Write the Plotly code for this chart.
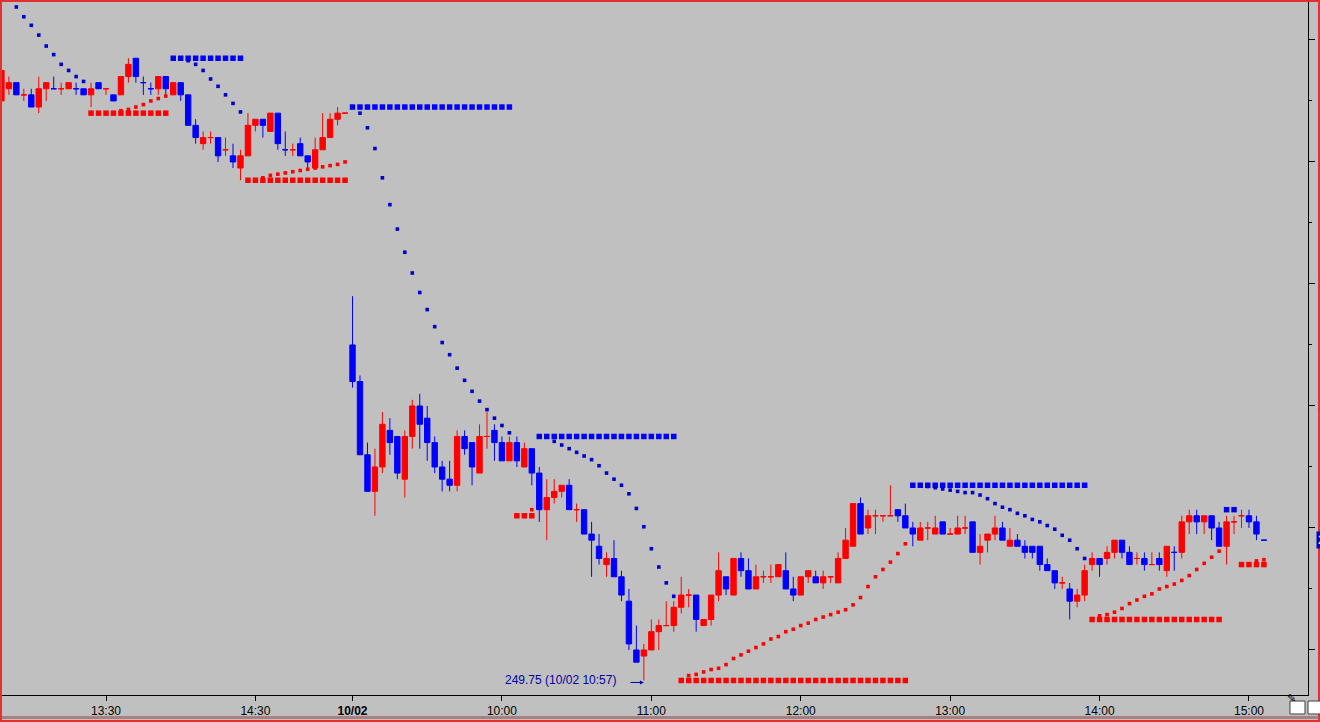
import plotly.graph_objects as go

RED = "#FF0000"
BLUE = "#0000FF"
SAR_BLUE = "#0000D0"
BG = "#C0C0C0"
FONT = "Liberation Sans, Arial, sans-serif"


def session(day, start, count):
    # 3-minute bar labels for one trading session
    h, m = start
    out = []
    for k in range(count):
        t = h * 60 + m + 3 * k
        out.append(f"{day} {t // 60:02d}:{t % 60:02d}")
    return out


times = session("10/01", (12, 48), 47) + session("10/02", (9, 0), 123)

tick_times = ["10/01 13:30", "10/01 14:30", "10/02 09:00", "10/02 10:00", "10/02 11:00",
              "10/02 12:00", "10/02 13:00", "10/02 14:00", "10/02 15:00"]
tick_text = ["13:30", "14:30", "<b>10/02</b>", "10:00", "11:00", "12:00", "13:00", "14:00", "15:00"]

# ---- previous day (10/01 12:48 - 15:06)
open_prev = [254.50, 254.60, 254.65, 254.55, 254.55, 254.45, 254.60, 254.60, 254.60, 254.60,
             254.60, 254.60, 254.55, 254.65, 254.60, 254.55, 254.55, 254.70, 254.85, 254.65,
             254.60, 254.60, 254.70, 254.55, 254.65, 254.55, 254.30, 254.15, 254.20, 254.20,
             254.10, 254.05, 253.95, 254.05, 254.30, 254.35, 254.25, 254.40, 254.10, 254.10,
             254.15, 254.05, 253.95, 254.10, 254.20, 254.35, 254.40]
high_prev = [254.75, 254.70, 254.65, 254.60, 254.60, 254.70, 254.65, 254.70, 254.65, 254.65,
             254.65, 254.60, 254.65, 254.65, 254.60, 254.55, 254.70, 254.85, 254.85, 254.70,
             254.65, 254.70, 254.70, 254.65, 254.65, 254.55, 254.35, 254.25, 254.25, 254.20,
             254.20, 254.15, 254.10, 254.40, 254.35, 254.35, 254.40, 254.40, 254.25, 254.15,
             254.20, 254.05, 254.20, 254.40, 254.40, 254.45, 254.40]
low_prev = [254.50, 254.55, 254.55, 254.50, 254.45, 254.40, 254.50, 254.60, 254.55, 254.60,
            254.55, 254.55, 254.45, 254.60, 254.55, 254.50, 254.55, 254.65, 254.65, 254.55,
            254.55, 254.55, 254.55, 254.55, 254.50, 254.30, 254.15, 254.10, 254.15, 254.00,
            254.05, 253.95, 253.85, 254.05, 254.25, 254.20, 254.25, 254.10, 254.05, 254.05,
            254.05, 253.95, 253.95, 254.10, 254.20, 254.30, 254.40]
close_prev = [254.75, 254.65, 254.55, 254.55, 254.45, 254.60, 254.65, 254.60, 254.60, 254.65,
              254.60, 254.55, 254.60, 254.60, 254.60, 254.50, 254.70, 254.80, 254.70, 254.65,
              254.60, 254.70, 254.60, 254.65, 254.55, 254.30, 254.20, 254.20, 254.20, 254.05,
              254.10, 254.00, 254.05, 254.30, 254.35, 254.30, 254.40, 254.15, 254.10, 254.10,
              254.05, 254.00, 254.10, 254.20, 254.35, 254.40, 254.40]

# ---- current day (10/02 09:00 - 15:06)
open_cur = [252.50, 252.20, 251.60, 251.30, 251.50, 251.80, 251.75, 251.40, 251.75, 252.00,
            251.90, 251.70, 251.50, 251.40, 251.35, 251.75, 251.70, 251.45, 251.75, 251.80,
            251.70, 251.55, 251.70, 251.50, 251.65, 251.45, 251.15, 251.25, 251.30, 251.35,
            251.15, 251.15, 250.95, 250.85, 250.70, 250.75, 250.60, 250.40, 250.00, 249.95,
            250.00, 250.15, 250.20, 250.20, 250.35, 250.45, 250.45, 250.20, 250.25, 250.45,
            250.60, 250.45, 250.75, 250.65, 250.50, 250.60, 250.60, 250.60, 250.65, 250.50,
            250.45, 250.60, 250.60, 250.55, 250.60, 250.55, 250.75, 250.85, 251.20, 251.00,
            251.10, 251.10, 251.10, 251.15, 251.10, 251.00, 250.90, 251.00, 250.95, 251.05,
            250.95, 250.95, 251.00, 251.05, 250.80, 250.90, 250.95, 251.00, 250.85, 250.90,
            250.85, 250.85, 250.85, 250.70, 250.65, 250.55, 250.50, 250.40, 250.45, 250.70,
            250.75, 250.75, 250.80, 250.90, 250.80, 250.75, 250.75, 250.70, 250.75, 250.65,
            250.80, 250.80, 251.05, 251.10, 251.05, 251.10, 251.00, 250.85, 251.05, 251.10,
            251.10, 251.05, 250.90]
high_cur = [252.90, 252.25, 251.70, 251.65, 251.95, 251.90, 251.75, 251.80, 252.05, 252.10,
            252.00, 251.75, 251.55, 251.55, 251.80, 251.80, 251.70, 251.85, 251.95, 251.85,
            251.75, 251.75, 251.75, 251.70, 251.65, 251.50, 251.40, 251.40, 251.35, 251.40,
            251.20, 251.15, 251.05, 250.95, 250.80, 250.90, 250.65, 250.50, 250.20, 250.05,
            250.25, 250.25, 250.40, 250.40, 250.60, 250.50, 250.45, 250.25, 250.45, 250.80,
            250.60, 250.75, 250.80, 250.75, 250.70, 250.65, 250.70, 250.70, 250.80, 250.60,
            250.60, 250.65, 250.65, 250.65, 250.60, 250.80, 251.00, 251.20, 251.25, 251.15,
            251.15, 251.10, 251.35, 251.15, 251.20, 251.05, 251.05, 251.05, 251.10, 251.05,
            251.00, 251.10, 251.10, 251.05, 250.95, 250.95, 251.10, 251.05, 251.00, 250.95,
            250.90, 250.85, 250.85, 250.75, 250.65, 250.60, 250.55, 250.50, 250.70, 250.80,
            250.75, 250.85, 250.90, 250.90, 250.85, 250.80, 250.80, 250.80, 250.80, 250.85,
            250.85, 251.10, 251.15, 251.15, 251.10, 251.10, 251.05, 251.10, 251.10, 251.15,
            251.15, 251.10, 250.90]
low_cur = [252.15, 251.60, 251.30, 251.10, 251.45, 251.60, 251.40, 251.25, 251.65, 251.65,
           251.55, 251.45, 251.30, 251.30, 251.30, 251.60, 251.35, 251.45, 251.65, 251.55,
           251.55, 251.55, 251.50, 251.50, 251.35, 251.05, 250.90, 251.20, 251.25, 251.15,
           251.05, 250.95, 250.60, 250.70, 250.60, 250.60, 250.40, 250.00, 249.90, 249.75,
           250.00, 250.00, 250.20, 250.15, 250.30, 250.35, 250.15, 250.20, 250.20, 250.40,
           250.45, 250.45, 250.60, 250.50, 250.50, 250.55, 250.55, 250.60, 250.50, 250.40,
           250.45, 250.55, 250.55, 250.50, 250.55, 250.55, 250.75, 250.85, 250.95, 250.95,
           250.95, 251.05, 251.10, 251.05, 251.00, 250.85, 250.90, 250.90, 250.95, 250.95,
           250.95, 250.95, 250.95, 250.80, 250.70, 250.80, 250.90, 250.90, 250.85, 250.85,
           250.75, 250.75, 250.65, 250.65, 250.50, 250.50, 250.25, 250.35, 250.40, 250.65,
           250.60, 250.70, 250.75, 250.75, 250.70, 250.70, 250.65, 250.70, 250.65, 250.60,
           250.65, 250.75, 250.95, 250.95, 250.95, 250.90, 250.85, 250.70, 250.95, 251.00,
           251.00, 250.90, 250.90]
close_cur = [252.20, 251.60, 251.30, 251.50, 251.85, 251.70, 251.45, 251.75, 252.00, 251.85,
             251.70, 251.50, 251.40, 251.35, 251.75, 251.65, 251.50, 251.75, 251.75, 251.70,
             251.55, 251.70, 251.55, 251.65, 251.45, 251.15, 251.25, 251.30, 251.35, 251.15,
             251.15, 250.95, 250.90, 250.75, 250.75, 250.60, 250.45, 250.05, 249.90, 250.00,
             250.15, 250.20, 250.20, 250.35, 250.45, 250.45, 250.25, 250.25, 250.45, 250.65,
             250.50, 250.75, 250.65, 250.50, 250.60, 250.60, 250.60, 250.70, 250.50, 250.45,
             250.60, 250.65, 250.55, 250.60, 250.60, 250.75, 250.90, 251.20, 250.95, 251.10,
             251.10, 251.10, 251.10, 251.10, 251.00, 250.95, 251.00, 251.00, 251.00, 250.95,
             250.95, 251.00, 251.00, 250.80, 250.85, 250.95, 251.00, 250.90, 250.90, 250.85,
             250.80, 250.80, 250.70, 250.65, 250.55, 250.55, 250.40, 250.45, 250.65, 250.75,
             250.70, 250.80, 250.90, 250.80, 250.70, 250.75, 250.70, 250.70, 250.70, 250.85,
             250.80, 251.05, 251.10, 251.05, 251.10, 251.00, 250.85, 251.05, 251.05, 251.10,
             251.05, 250.95, 250.90]

# candle colour as drawn: r = up (red), b = down (blue)
bar_colors = ("rrbrbrrbrr" "bbrbrbrrbb" "brbrbbbrrb" "rbrrrbrbbr" "bbrrrrr"
              "bbb" "rrbbrrbbbb" "brbbrrbbrb" "rbbrrrbrbb" "brbbbbrrrr" "rrrbrrrbrb"
              "brrrrbbrrb" "rrrrrbrrrr" "bbbrrrbrrr" "brrrbrbbbb" "bbrbrrrbrr"
              "bbrbrbrbrr" "brbbrrrbbb")

# parabolic stop dots
sar_prev = [None, None, 255.27, 255.19, 255.12, 255.04, 254.95, 254.88, 254.80, 254.75,
            254.70, 254.66, 254.40, 254.40, 254.40, 254.40, 254.42, 254.43, 254.45, 254.47,
            254.50, 254.52, 254.54, 254.85, 254.85, 254.83, 254.80, 254.75, 254.68, 254.62,
            254.55, 254.48, 254.41, 253.85, 253.85, 253.87, 253.89, 253.90, 253.91, 253.92,
            253.93, 253.94, 253.95, 253.96, 253.97, 253.98, 254.00]
sar_cur = [254.45, 254.40, 254.28, 254.11, 253.87, 253.65, 253.45, 253.26, 253.09, 252.93,
           252.79, 252.65, 252.52, 252.42, 252.31, 252.21, 252.12, 252.04, 251.97, 251.90,
           251.84, 251.78, 251.10, 251.10, 251.15, 251.75, 251.75, 251.71, 251.68, 251.65,
           251.62, 251.59, 251.56, 251.51, 251.45, 251.40, 251.35, 251.28, 251.16, 251.01,
           250.83, 250.68, 250.55, 250.44, 249.75, 249.79, 249.80, 249.82, 249.84, 249.85,
           249.88, 249.93, 249.96, 249.99, 250.02, 250.05, 250.09, 250.11, 250.15, 250.17,
           250.20, 250.22, 250.25, 250.27, 250.29, 250.31, 250.33, 250.37, 250.43, 250.52,
           250.60, 250.66, 250.72, 250.79, 250.87, 251.35, 251.35, 251.34, 251.33, 251.32,
           251.31, 251.30, 251.29, 251.29, 251.27, 251.24, 251.20, 251.17, 251.15, 251.12,
           251.10, 251.07, 251.05, 251.02, 250.99, 250.94, 250.90, 250.83, 250.75, 250.25,
           250.28, 250.29, 250.31, 250.34, 250.38, 250.41, 250.44, 250.46, 250.50, 250.52,
           250.54, 250.57, 250.61, 250.66, 250.71, 250.76, 250.81, 251.15, 251.15, 250.70,
           250.70, 250.73, 250.74]

# trend runs (u = long / red, d = short / blue) and the stop level held during each run
trend_runs = [("d", 12), ("u", 11), ("d", 10), ("u", 14), ("d", 22), ("u", 3),
              ("d", 19), ("u", 31), ("d", 24), ("u", 18), ("d", 2), ("u", 4)]
stop_levels = [None, 254.40, 254.85, 253.85, 254.45, 251.10,
               251.75, 249.75, 251.35, 250.25, 251.15, 250.70]

low_note = "249.75 (10/02 10:57)"
last_price = 250.90

opens = open_prev + open_cur
highs = high_prev + high_cur
lows = low_prev + low_cur
closes = close_prev + close_cur
sar = sar_prev + sar_cur

trend = []
level = []
for (t, n), lv in zip(trend_runs, stop_levels):
    trend += [t] * n
    level += [lv] * n

fig = go.Figure()


def only(vals, keys, key):
    return [v if k == key else None for v, k in zip(vals, keys)]


for key, color in (("r", RED), ("b", BLUE)):
    fig.add_trace(go.Candlestick(
        x=times,
        open=only(opens, bar_colors, key),
        high=only(highs, bar_colors, key),
        low=only(lows, bar_colors, key),
        close=only(closes, bar_colors, key),
        increasing=dict(line=dict(color=color, width=1), fillcolor=color),
        decreasing=dict(line=dict(color=color, width=1), fillcolor=color),
        whiskerwidth=0,
        showlegend=False,
    ))

for key, color, dot_color in (("u", RED, RED), ("d", BLUE, SAR_BLUE)):
    fig.add_trace(go.Scatter(
        x=times, y=only(level, trend, key), mode="markers",
        marker=dict(symbol="square", size=5.5, color=color, line=dict(width=0)),
        showlegend=False, hoverinfo="skip",
    ))
    fig.add_trace(go.Scatter(
        x=times, y=only(sar, trend, key), mode="markers",
        marker=dict(symbol="square", size=3.6, color=dot_color, line=dict(width=0)),
        showlegend=False, hoverinfo="skip",
    ))

# low-of-day note with a small arrow pointing at the bar
low_bar = times[lows.index(min(lows))]
fig.add_annotation(x=low_bar, y=min(lows), text=low_note, showarrow=False,
                   xanchor="right", yanchor="middle", xshift=-26,
                   font=dict(family=FONT, size=12, color="#0000A0"))
fig.add_annotation(x=low_bar, y=min(lows), text="", showarrow=True, ax=-15, ay=0,
                   arrowhead=2, arrowsize=0.8, arrowwidth=1, arrowcolor="#0000A0",
                   standoff=0, yshift=-2)

# last price tag on the right edge (mostly cut off, as in the terminal)
fig.add_annotation(xref="paper", x=1, xshift=8, y=last_price, text=f"{last_price:.2f}",
                   showarrow=False, xanchor="left", bgcolor="#0000C0",
                   font=dict(family=FONT, size=12, color="white"))

# window frame, scroll strip and the two tool buttons
fig.add_shape(type="rect", xref="paper", yref="paper",
              x0=-0.0008, x1=1.0084, y0=-0.0375, y1=1.0014,
              line=dict(color="#E03030", width=2), fillcolor="rgba(0,0,0,0)")
fig.add_shape(type="rect", xref="paper", yref="paper",
              x0=0.0, x1=1.0080, y0=-0.0346, y1=-0.0303,
              line=dict(width=0), fillcolor="#A88080")
for x0, x1 in ((0.9862, 0.9977), (1.0000, 1.0100)):
    fig.add_shape(type="rect", xref="paper", yref="paper",
                  x0=x0, x1=x1, y0=-0.0274, y1=-0.0087,
                  line=dict(color="#404040", width=1), fillcolor="white")
fig.add_annotation(xref="paper", yref="paper", x=0.992, y=-0.018, text="✎",
                   showarrow=False, font=dict(family="DejaVu Sans", size=11, color="black"))

fig.update_layout(
    width=1320,
    height=722,
    margin=dict(l=2, r=12, t=2, b=27),
    paper_bgcolor=BG,
    plot_bgcolor=BG,
    showlegend=False,
    boxgap=0.15,
    boxgroupgap=0.15,
    font=dict(family=FONT, size=12, color="black"),
    hovermode=False,
)

fig.update_xaxes(
    type="category",
    range=[0.079, 174.9],
    automargin=False,
    rangeslider_visible=False,
    tickmode="array",
    tickvals=tick_times,
    ticktext=tick_text,
    ticks="outside",
    ticklen=5,
    tickcolor="black",
    showline=True,
    linecolor="black",
    linewidth=1,
    showgrid=False,
    zeroline=False,
    tickfont=dict(family=FONT, size=12, color="black"),
)

fig.update_yaxes(
    side="right",
    range=[249.631, 255.311],
    automargin=False,
    tick0=250,
    dtick=1,
    tickformat=".2f",
    ticks="outside",
    ticklen=6,
    tickcolor="black",
    minor=dict(dtick=0.5, ticks="outside", ticklen=3, tickcolor="black"),
    showline=True,
    linecolor="black",
    linewidth=1,
    showgrid=False,
    zeroline=False,
    tickfont=dict(family=FONT, size=12, color="black"),
)

# the page would otherwise add the browser's default 8px body margin
fig.write_html("out.html", config={"displayModeBar": False},
               post_script="document.body.style.margin='0';"
                           "document.body.style.overflow='hidden';")
